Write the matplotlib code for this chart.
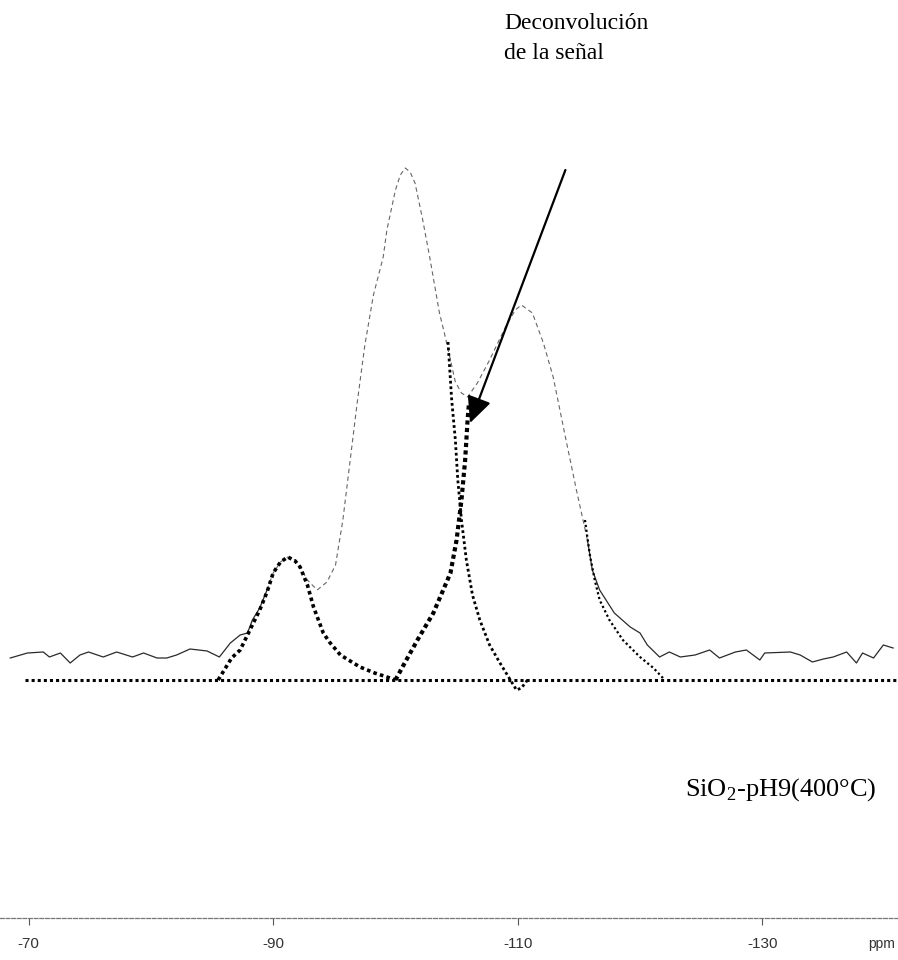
import matplotlib.pyplot as plt

plt.rcParams["mathtext.fontset"] = "custom"
plt.rcParams["mathtext.rm"] = "Liberation Serif"

# measured 29Si spectrum (ppm, arbitrary intensity)
spec_ppm = [-68.5, -69.9, -71.2, -71.7, -72.6, -73.4, -74.2, -74.9, -76.1, -77.2,
            -78.5, -79.4, -80.5, -81.3, -82.1, -83.2, -84.6, -85.6, -86.5, -87.3,
            -87.9, -88.3, -88.9, -89.5, -90.0, -90.6, -91.2, -91.8, -92.2, -92.8,
            -93.6, -94.4, -95.1, -95.7, -96.3, -96.9, -97.5, -98.2, -99.0, -99.3,
            -100.0, -100.4, -100.8, -101.2, -101.6, -102.2, -102.8, -103.6, -104.0,
            -104.5, -104.9, -105.4, -105.9, -106.7, -107.7, -109.0, -109.8, -110.3,
            -111.2, -112.1, -112.9, -114.0, -114.8, -115.7, -116.1, -116.7, -117.9,
            -119.2, -120.0, -120.6, -121.6, -122.4, -123.3, -124.5, -125.7, -126.5,
            -127.8, -128.7, -129.8, -130.2, -132.3, -133.1, -134.1, -135.0, -135.8,
            -136.9, -137.7, -138.2, -139.1, -139.9, -140.7]
spec_int = [22, 27, 28, 23, 27, 17, 25, 28, 23, 28,
            23, 27, 22, 22, 25, 31, 29, 23, 37, 45,
            47, 60, 72, 90, 107, 118, 123, 120, 113, 100,
            90, 98, 115, 160, 220, 280, 335, 385, 423, 450,
            490, 505, 512, 508, 497, 462, 423, 367, 347,
            320, 298, 287, 283, 297, 320, 353, 370, 375,
            367, 337, 303, 237, 190, 140, 110, 90, 67,
            53, 47, 35, 23, 28, 23, 25, 30, 22,
            28, 30, 20, 27, 28, 25, 18, 21, 23,
            28, 17, 27, 22, 35, 32]

# deconvolution components
q2_ppm = [-85.5, -86.1, -86.6, -87.3, -88.1, -88.9, -89.5, -90.0, -90.6, -91.2,
          -91.8, -92.2, -92.8, -93.3, -94.1, -94.6, -95.5, -96.3, -97.1, -98.3,
          -99.3, -100.0]
q2_int = [0, 12, 22, 30, 50, 70, 88, 107, 118, 123,
          119, 113, 95, 73, 47, 38, 25, 19, 13, 7,
          3, 0]

q3_ppm = [-100.0, -100.8, -101.8, -103.1, -104.5, -105.0, -105.4, -105.7, -105.9, -106.0]
q3_int = [0, 18, 40, 67, 107, 140, 180, 220, 260, 275]

q3b_ppm = [-104.3, -104.6, -104.9, -105.1, -105.4, -105.8, -106.3, -106.9, -107.7,
           -108.5, -109.4, -109.9, -110.3, -110.8]
q3b_int = [338, 280, 240, 200, 160, 120, 85, 60, 35, 18, 0, -10, -8, 0]

q4_ppm = [-115.5, -115.9, -116.3, -116.7, -117.5, -118.6, -120.0, -121.1, -121.8, -122.0]
q4_int = [160, 125, 100, 80, 60, 40, 23, 12, 3, 0]

base_ppm = [-69.7, -141.1]
base_int = [0, 0]

ticks = [-70, -90, -110, -130]
tick_labels = ["-70", "-90", "-110", "-130"]

fig = plt.figure(figsize=(8.98, 9.6), dpi=100)
ax = fig.add_axes([0, 42 / 960, 1, 1 - 42 / 960])
ax.set_xlim(-67.66, -141.1)
ax.set_ylim(-238, 680)

# spectrum: solid on the noisy baseline, broken where the trace is faint
ax.plot(spec_ppm[:24], spec_int[:24], color="#2a2a2a", lw=0.9)
ax.plot(spec_ppm[23:64], spec_int[23:64], color="#666666", lw=0.8,
        dashes=(4, 3))
ax.plot(spec_ppm[63:], spec_int[63:], color="#2a2a2a", lw=0.9)

# fitted components, square dots
ax.plot(base_ppm, base_int, color="k", lw=2.2, dashes=(1, 1),
        dash_capstyle="butt")
ax.plot(q2_ppm, q2_int, color="k", lw=2.6, dashes=(1, 0.9),
        dash_capstyle="butt")
ax.plot(q3_ppm, q3_int, color="k", lw=3.0, dashes=(1, 0.8),
        dash_capstyle="butt")
ax.plot(q3b_ppm, q3b_int, color="k", lw=2.0, dashes=(1, 1),
        dash_capstyle="butt")
ax.plot(q4_ppm, q4_int, color="k", lw=1.6, dashes=(1, 1.2),
        dash_capstyle="butt")

ax.annotate("", xy=(-106.1, 257), xytext=(-113.9, 510),
            arrowprops=dict(arrowstyle="-|>,head_length=1.6,head_width=0.75",
                            color="k", lw=1.6, shrinkA=0, shrinkB=0))

ax.text(-108.9, 667, "Deconvolución\nde la señal", fontsize=17,
        family="Liberation Serif", va="top", ha="left", linespacing=1.55)
ax.text(-123.7, -110, r"SiO$_2$-pH9(400°C)", fontsize=19,
        family="Liberation Serif", va="center", ha="left")

for s in ("top", "left", "right"):
    ax.spines[s].set_visible(False)
ax.spines["bottom"].set_color("#777777")
ax.spines["bottom"].set_linewidth(0.9)
ax.spines["bottom"].set_linestyle((0, (3, 1.5)))
ax.set_yticks([])
ax.set_xticks(ticks)
ax.set_xticklabels(tick_labels, family="Liberation Sans", fontsize=11,
                   color="#333333")
ax.tick_params(axis="x", direction="out", length=5, width=0.8,
               color="#555555", pad=9)
ax.annotate("ppm", xy=(1, 0), xycoords="axes fraction", xytext=(-2, -14),
            textcoords="offset points", family="Liberation Sans",
            fontsize=10, color="#333333", ha="right", va="top")

fig.savefig("out.png", dpi=100)
